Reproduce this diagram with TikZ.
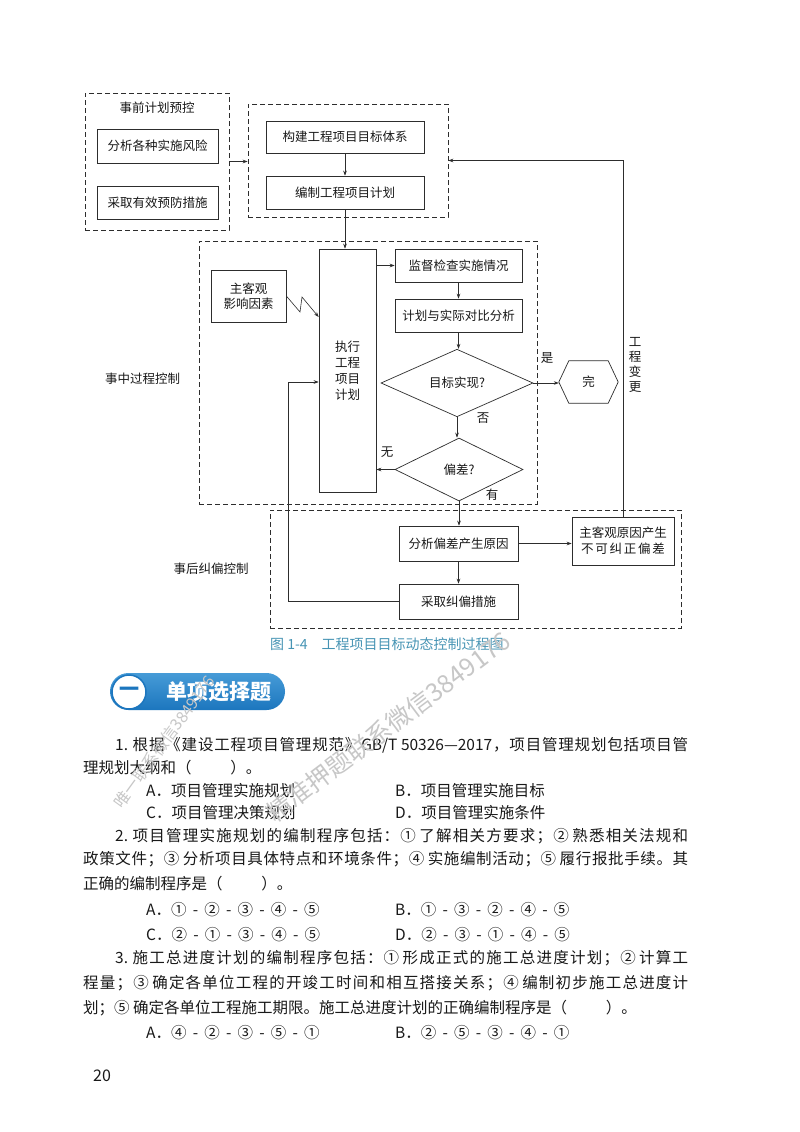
\documentclass[tikz,border=0pt]{standalone}
\usepackage{fontspec}
\setmainfont{Noto Sans CJK SC}
\usetikzlibrary{arrows.meta,shapes.geometric}

\ifdefined\newXeTeXintercharclass \newXeTeXintercharclass\cjkc \else \chardef\cjkc=200 \fi
\makeatletter
\def\setcls#1#2{\count@=#1\relax\loop\XeTeXcharclass\count@=\cjkc\relax\ifnum\count@<#2\relax\advance\count@\@ne\repeat}
\setcls{"4E00}{"9FFF}
\setcls{"3000}{"303F}
\setcls{"FF00}{"FFEF}
\setcls{"2460}{"2473}
\makeatother
\XeTeXinterchartoks\cjkc\cjkc={\hskip0pt plus 1fil\relax}
\XeTeXinterchartoks 0 \cjkc={\hskip0pt plus 1fil\relax}
\XeTeXinterchartoks\cjkc 0 ={\hskip0pt plus 1fil\relax}
\XeTeXinterchartokenstate=1

\newcommand\jline[2]{\makebox[#1][s]{#2}}
\newcommand\dfont{\fontsize{12.5pt}{15pt}\selectfont}
\newcommand\btfont{\fontsize{15.5pt}{18pt}\selectfont}
\newcommand\dsh{\hspace{0.4em}-\hspace{0.4em}}
\definecolor{lc}{RGB}{45,45,45}
\definecolor{tc}{RGB}{25,25,25}
\definecolor{capc}{RGB}{70,148,180}
\definecolor{pillc}{RGB}{28,118,190}
\definecolor{pilltop}{RGB}{70,155,215}

\tikzset{
  bx/.style={draw=lc, line width=0.7pt, inner sep=0pt, font=\dfont, text=tc, align=center},
  dbx/.style={draw=lc, line width=0.7pt, dash pattern=on 5pt off 3pt, inner sep=0pt},
  ar/.style={draw=lc, line width=0.6pt, -{Stealth[length=5pt,width=3.6pt]}},
  ln/.style={draw=lc, line width=0.6pt},
  lab/.style={font=\dfont, text=tc, inner sep=0pt, align=center},
  dmd/.style={diamond, draw=lc, line width=0.7pt, inner sep=0pt, font=\dfont, text=tc},
  bt/.style={font=\btfont, text=tc, anchor=west, inner sep=0pt},
  wm/.style={text=black!22, inner sep=0pt},
}

\begin{document}
\begin{tikzpicture}[x=1pt,y=-1pt]
\useasboundingbox (0,0) rectangle (800,1132);
\fill[white] (0,0) rectangle (800,1132);

% ---------- containers ----------
\node[dbx, minimum width=144pt, minimum height=137pt] (pre) at (157,161.5) {};
\node[dbx, minimum width=200pt, minimum height=113pt] (plan) at (348,160.5) {};
\node[dbx, minimum width=338pt, minimum height=263pt] (mid) at (368,372.5) {};
\node[dbx, minimum width=411pt, minimum height=118pt] (post) at (475.5,569) {};

% ---------- nodes ----------
\node[lab] (preT) at (157,108) {事前计划预控};
\node[bx, minimum width=121pt, minimum height=34pt] (risk) at (157.5,146) {分析各种实施风险};
\node[bx, minimum width=121pt, minimum height=33pt] (prev) at (157.5,202.5) {采取有效预防措施};
\node[bx, minimum width=158pt, minimum height=32pt] (goal) at (345,137) {构建工程项目目标体系};
\node[bx, minimum width=158pt, minimum height=33pt] (mkplan) at (345,192.5) {编制工程项目计划};

\node[bx, minimum width=57pt, minimum height=243pt, font=\fontsize{12.5pt}{16pt}\selectfont] (exec) at (347.5,370.5) {执行\\工程\\项目\\计划};
\node[bx, minimum width=75pt, minimum height=52pt] (factor) at (248.5,296) {主客观\\影响因素};
\node[bx, minimum width=127pt, minimum height=33pt] (sup) at (458.5,265.5) {监督检查实施情况};
\node[bx, minimum width=127pt, minimum height=33pt] (cmp) at (458.5,315.5) {计划与实际对比分析};
\node[dmd, minimum width=152pt, minimum height=60pt] (d1) at (457,383) {目标实现?};
\node[dmd, minimum width=128pt, minimum height=63pt] (d2) at (459,469.5) {偏差?};
\node[lab, minimum width=59pt, minimum height=42pt] (done) at (588.5,382) {完};
\draw[ln, line width=0.7pt] (done.west) -- ([xshift=10pt]done.north west) -- ([xshift=-10pt]done.north east)
  -- (done.east) -- ([xshift=-10pt]done.south east) -- ([xshift=10pt]done.south west) -- cycle;

\node[bx, minimum width=119pt, minimum height=35pt] (anal) at (458.5,543.5) {分析偏差产生原因};
\node[bx, minimum width=119pt, minimum height=35pt] (corr) at (458.5,601.5) {采取纠偏措施};
\node[bx, minimum width=102pt, minimum height=48pt, font=\fontsize{12.5pt}{16pt}\selectfont] (uncorr) at (623,541) {主客观原因产生\\不可纠正偏差};

\node[lab] (midT) at (142.5,379) {事中过程控制};
\node[lab] (postT) at (211,569) {事后纠偏控制};
\node[lab] (yes) at (547,358) {是};
\node[lab] (no) at (483,418) {否};
\node[lab] (none) at (387,452) {无};
\node[lab] (have) at (492,495) {有};
\node[lab] (chg) at (635,364.5) {工\\程\\变\\更};

% ---------- connectors ----------
\draw[ar] (pre.east) -- (pre.east -| plan.west);
\draw[ar] (goal.south) -- (mkplan.north);
\draw[ar] (mkplan.south) -- (mkplan.south |- exec.north);
\draw[ar] (exec.east |- sup.west) -- (sup.west);
\draw[ar] (sup.south) -- (cmp.north);
\draw[ar] (cmp.south) -- (cmp.south |- d1.north);
\draw[ar] (d1.south) -- (d1.south |- d2.north);
\draw[ar] (d1.east) -- (d1.east -| done.west);
\draw[ar] (d2.west) -- (d2.west -| exec.east);
\draw[ar] (d2.south) -- (d2.south |- anal.north);
\draw[ar] (anal.south) -- (corr.north);
\draw[ar] (anal.east) -- (anal.east -| uncorr.west);
\draw[ar] (uncorr.north) |- (plan.east);
\coordinate (lp) at (288,382);
\draw[ar] (corr.west) -| (lp) -- (lp -| exec.west);
\coordinate (zA) at (300,312);
\coordinate (zB) at (302,297);
\draw[ar] (factor.east) -- (zA) -- (zB) -- ([yshift=53.5pt]exec.west);

% ---------- caption ----------
\node[font=\fontsize{14pt}{16pt}\selectfont, text=capc, anchor=west, inner sep=0pt] (cap) at (270,644) {图 1-4\hspace{1em}工程项目目标动态控制过程图};

% ---------- section header ----------
\shade[top color=pilltop, bottom color=pillc, rounded corners=18.5pt] (110,673) rectangle (285,710);
\node[circle, fill=white, draw=pillc, line width=1.5pt, minimum size=34pt, inner sep=0pt] (circ) at (129,692) {};
\node[text=pillc, font=\fontsize{20pt}{20pt}\selectfont\bfseries, inner sep=0pt] (one) at (129,692) {一};
\node[text=white, font=\fontsize{21pt}{21pt}\selectfont\bfseries, inner sep=0pt] (hd) at (219,692) {单项选择题};

% ---------- body text ----------
\node[bt] (l1) at (115,745) {\jline{573pt}{1. 根据《建设工程项目管理规范》GB/T 50326—2017，项目管理规划包括项目管}};
\node[bt] (l2) at (83,768) {理规划大纲和（\hspace{2.5em}）。};
\node[bt] (o1a) at (146,791) {A．项目管理实施规划};
\node[bt] (o1b) at (395,791) {B．项目管理实施目标};
\node[bt] (o1c) at (146,813) {C．项目管理决策规划};
\node[bt] (o1d) at (395,813) {D．项目管理实施条件};

\node[bt] (l3) at (115,836) {\jline{573pt}{2. 项目管理实施规划的编制程序包括：① 了解相关方要求；② 熟悉相关法规和}};
\node[bt] (l4) at (83,859) {\jline{605pt}{政策文件；③ 分析项目具体特点和环境条件；④ 实施编制活动；⑤ 履行报批手续。其}};
\node[bt] (l5) at (83,884) {正确的编制程序是（\hspace{2.5em}）。};
\node[bt] (o2a) at (146,910) {A．①\dsh②\dsh③\dsh④\dsh⑤};
\node[bt] (o2b) at (395,910) {B．①\dsh③\dsh②\dsh④\dsh⑤};
\node[bt] (o2c) at (146,935) {C．②\dsh①\dsh③\dsh④\dsh⑤};
\node[bt] (o2d) at (395,935) {D．②\dsh③\dsh①\dsh④\dsh⑤};

\node[bt] (l6) at (115,958) {\jline{573pt}{3. 施工总进度计划的编制程序包括：① 形成正式的施工总进度计划；② 计算工}};
\node[bt] (l7) at (83,983) {\jline{605pt}{程量；③ 确定各单位工程的开竣工时间和相互搭接关系；④ 编制初步施工总进度计}};
\node[bt] (l8) at (83,1008) {划；⑤ 确定各单位工程施工期限。施工总进度计划的正确编制程序是（\hspace{2.5em}）。};
\node[bt] (o3a) at (146,1033) {A．④\dsh②\dsh③\dsh⑤\dsh①};
\node[bt] (o3b) at (395,1033) {B．②\dsh⑤\dsh③\dsh④\dsh①};

\node[font=\fontsize{16pt}{16pt}\selectfont, text=tc, inner sep=0pt] (pg) at (102,1076) {20};

% ---------- watermarks ----------
\node[wm, rotate=37, font=\fontsize{25pt}{25pt}\selectfont] (wm2) at (388,727) {精准押题联系微信3849176};
\node[wm, rotate=54, font=\fontsize{16pt}{16pt}\selectfont] (wm1) at (164,742) {唯一联系微信3849176};
\end{tikzpicture}
\end{document}
